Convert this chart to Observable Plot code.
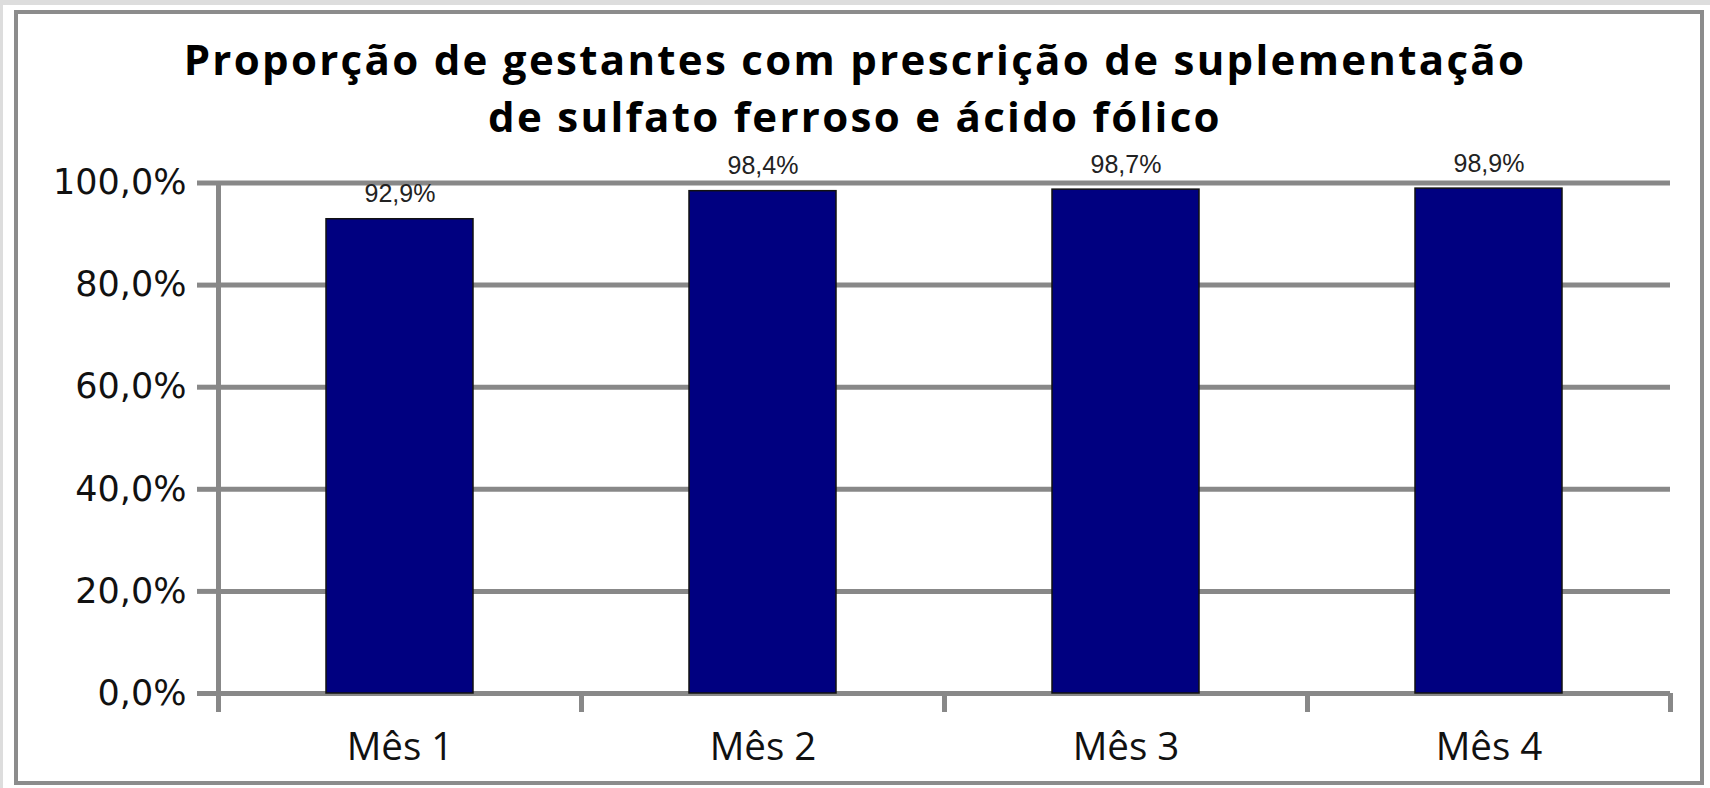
<!DOCTYPE html>
<html>
<head>
<meta charset="utf-8">
<script src="https://cdn.jsdelivr.net/npm/d3@7"></script>
<script src="https://cdn.jsdelivr.net/npm/@observablehq/plot@0.6"></script>
<style>
  html, body { margin: 0; padding: 0; }
  body { width: 1710px; height: 788px; background: #dddddd; position: relative; overflow: hidden; }
  #panel { position: absolute; left: 3px; top: 5px; right: 0; bottom: 0; background: #ffffff; }
  #frame { position: absolute; left: 14px; top: 10px; width: 1690px; height: 775px; box-sizing: border-box; border: 4px solid #8c8c8c; }
  #title { position: absolute; left: 0; top: 30px; width: 1710px; text-align: center; font-family: "Open Sans", sans-serif; font-weight: 700; font-size: 42px; letter-spacing: 2.3px; line-height: 57px; color: #000; }
  #chart { position: absolute; left: 0; top: 140px; }
</style>
</head>
<body>
<div id="panel"></div>
<div id="frame"></div>
<div id="title">Proporção de gestantes com prescrição de suplementação<br>de sulfato ferroso e ácido fólico</div>
<div id="chart"></div>
<script>
const months = ["Mês 1", "Mês 2", "Mês 3", "Mês 4"];
const values = [92.9, 98.4, 98.7, 98.9];
const yTicks = [0, 20, 40, 60, 80, 100];

const data = months.map((m, i) => ({month: m, value: values[i]}));
const pct = d => d.toFixed(1).replace(".", ",") + "%";

const W = 1710, H = 640, ML = 218, MR = 40, MT = 42.5, MB = 87;
const step = (W - ML - MR) / months.length;
const gridColor = "#888888";

const chart = Plot.plot({
  width: W,
  height: H,
  marginLeft: ML,
  marginRight: MR,
  marginTop: MT,
  marginBottom: MB,
  style: {background: "transparent"},
  x: {domain: months, padding: 0, label: null},
  y: {domain: [0, 100], label: null},
  marks: [
    Plot.gridY(yTicks, {stroke: gridColor, strokeWidth: 5, strokeOpacity: 1}),
    Plot.axisY(yTicks, {
      tickSize: 21, tickPadding: 11, stroke: gridColor, strokeWidth: 5,
      tickFormat: pct, fontSize: 35, fontFamily: "DejaVu Sans", fill: "#111", label: null
    }),
    Plot.ruleX([months[0]], {dx: -step / 2, stroke: gridColor, strokeWidth: 5}),
    Plot.axisX(months, {tickSize: 19, tickPadding: 0, tickFormat: () => "", dx: -step / 2, stroke: gridColor, strokeWidth: 5, label: null}),
    Plot.axisX([months[months.length - 1]], {tickSize: 19, tickPadding: 0, tickFormat: () => "", dx: step / 2, stroke: gridColor, strokeWidth: 5, label: null}),
    Plot.barY(data, {x: "month", y: "value", fill: "#000080", stroke: "#111", strokeWidth: 1.5, insetLeft: 108, insetRight: 108}),
    Plot.axisX(months, {tickSize: 0, tickPadding: 39, fontSize: 38.5, fontFamily: "Open Sans", fill: "#111", label: null}),
    Plot.text(data, {x: "month", y: "value", text: d => pct(d.value), dy: -17, lineAnchor: "bottom", fontSize: 25, fontFamily: "Liberation Sans", fill: "#222"})
  ]
});
document.getElementById("chart").appendChild(chart);
</script>
</body>
</html>
